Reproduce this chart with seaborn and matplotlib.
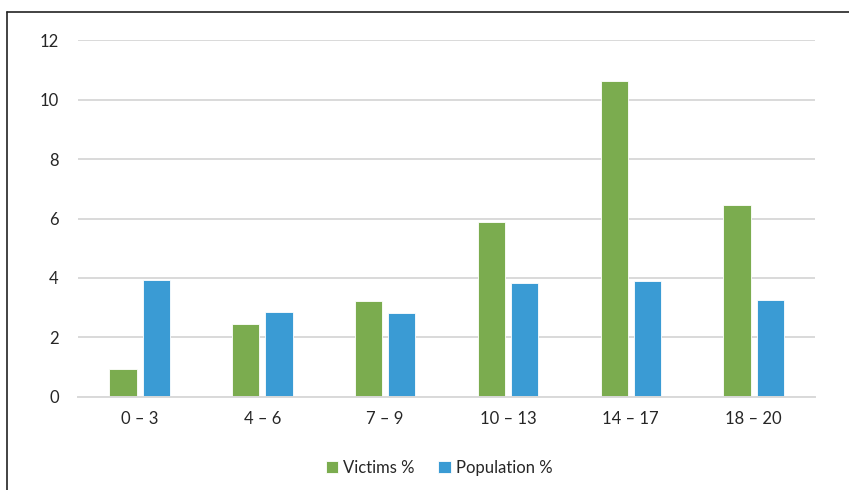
import matplotlib
matplotlib.use('Agg')
import matplotlib.pyplot as plt
from matplotlib.lines import Line2D
import pandas as pd
import seaborn as sns

# datos
age_groups = ['0 – 3', '4 – 6', '7 – 9', '10 – 13', '14 – 17', '18 – 20']
victims_pct = [0.93, 2.45, 3.22, 5.88, 10.62, 6.44]
population_pct = [3.93, 2.86, 2.82, 3.83, 3.90, 3.26]
series_names = ['Victims %', 'Population %']

df = pd.DataFrame({
    'age': age_groups * 2,
    'value': victims_pct + population_pct,
    'series': [series_names[0]] * len(age_groups) + [series_names[1]] * len(age_groups),
})

sns.set_style('white')
plt.rcParams['font.family'] = ['Lato', 'DejaVu Sans']

fig = plt.figure(figsize=(8.49, 4.9), dpi=100)
ax = fig.add_axes([0.092, 0.19, 0.868, 0.728])

sns.barplot(data=df, x='age', y='value', hue='series',
            palette=['#7BAC4F', '#3A9BD4'], saturation=1, width=0.54, gap=0.18,
            ax=ax, legend=True, edgecolor='white', linewidth=0.6)

ax.set_ylim(0, 12)
ax.set_yticks(range(0, 13, 2))
ax.set_xlim(-0.5, 5.5)
ax.yaxis.grid(True, color='#D9D9D9', linewidth=1.4)
ax.set_axisbelow(True)
for side in ['top', 'right', 'left']:
    ax.spines[side].set_visible(False)
ax.spines['bottom'].set_color('#D9D9D9')
ax.spines['bottom'].set_linewidth(1.4)
ax.tick_params(axis='both', length=0, labelsize=12, colors='#262626')
ax.tick_params(axis='y', pad=14)
ax.tick_params(axis='x', pad=10)
ax.set_xlabel('')
ax.set_ylabel('')

handles, labels = ax.get_legend_handles_labels()
ax.legend(handles, labels, loc='upper center', bbox_to_anchor=(0.49, -0.135),
          ncol=2, frameon=False, fontsize=12, handlelength=0.75, handleheight=0.75,
          handletextpad=0.3, columnspacing=1.4, labelcolor='#262626')

# marco del documento (solo arriba e izquierda)
fig.add_artist(Line2D([7 / 849, 1], [1 - 12 / 490, 1 - 12 / 490], color='#222222', linewidth=1.2))
fig.add_artist(Line2D([7 / 849, 7 / 849], [0, 1 - 12 / 490], color='#222222', linewidth=1.2))

fig.savefig('out.png', dpi=100)
